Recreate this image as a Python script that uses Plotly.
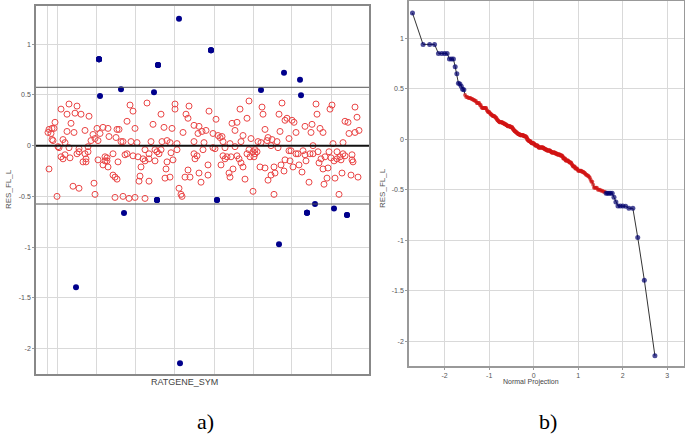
import plotly.graph_objects as go
from statistics import NormalDist

# ---------------- data ----------------
# Panel a: residuals per gene (x = gene position along RATGENE_SYM axis)
red_idx = [33,41,25,31,39,45,53,19,35,16,13,18,12,15,31,38,49,61,67,57,
           64,72,73,81,16,17,27,29,55,59,62,80,22,23,33,43,52,43,52,41,
           49,77,25,29,34,27,50,62,69,71,69,71,47,50,67,72,13,77,79,81,
           58,37,43,59,21,79,
           94,111,139,153,97,125,139,150,152,91,117,158,163,83,99,128,136,147,162,85,
           87,95,101,115,126,131,134,141,158,89,91,97,102,109,113,119,121,123,125,135,
           141,158,159,161,107,109,105,113,119,131,137,82,130,152,163,104,103,113,129,134,
           149,154,143,145,87,93,99,109,146,
           213,226,246,173,204,227,243,180,211,196,201,249,166,170,199,229,244,177,182,184,
           186,207,232,236,168,187,194,205,215,222,225,231,241,167,177,179,189,199,235,242,
           213,217,219,221,187,191,195,201,203,211,214,218,219,189,205,207,197,185,193,194,
           172,224,229,238,245,239,235,232,209,172,165,217,238,
           280,296,294,319,281,321,251,256,258,276,269,284,287,275,260,309,312,323,319,313,
           253,297,307,277,253,255,260,262,267,269,274,277,282,293,301,307,304,301,309,316,
           289,285,295,249,254,270,283,298,305,316,317,257,263,266,287,292,248,291,299,306,
           315,322,273,288,303]
red_val = [0.41,0.39,0.36,0.31,0.32,0.31,0.29,0.23,0.22,0.17,0.16,0.17,0.13,0.12,0.14,0.13,0.15,0.17,0.18,0.11,
           0.12,0.17,0.09,0.16,0.06,0.05,0.06,0.03,0.05,0.07,0.05,0.08,-0.01,-0.02,-0.02,-0.03,-0.01,-0.06,-0.06,-0.08,
           -0.08,-0.08,-0.11,-0.09,-0.12,-0.13,-0.13,-0.14,-0.11,-0.12,-0.15,-0.15,-0.16,-0.16,-0.19,-0.21,-0.23,-0.29,-0.31,-0.33,
           -0.37,-0.40,-0.42,-0.48,-0.50,-0.51,
           0.40,0.42,0.41,0.39,0.34,0.31,0.36,0.31,0.27,0.24,0.21,0.20,0.19,0.16,0.17,0.18,0.17,0.13,0.12,0.04,
           0.04,0.04,0.03,0.04,0.04,0.05,0.03,0.02,0.04,-0.09,-0.08,-0.10,-0.11,-0.04,-0.08,-0.04,-0.06,-0.08,-0.04,-0.07,
           -0.04,-0.08,-0.13,-0.10,-0.13,-0.15,-0.21,-0.13,-0.15,-0.16,-0.14,-0.16,-0.23,-0.24,-0.27,-0.30,-0.35,-0.35,-0.32,-0.31,
           -0.31,-0.31,-0.42,-0.48,-0.50,-0.52,-0.51,-0.52,-0.50,
           0.44,0.38,0.42,0.34,0.36,0.31,0.31,0.26,0.27,0.22,0.23,0.25,0.14,0.15,0.15,0.16,0.14,0.12,0.10,0.08,
           0.09,0.10,0.08,0.06,0.03,0.04,0.02,0.04,0.07,0.04,0.03,0.05,0.04,-0.04,-0.02,-0.03,-0.02,-0.01,0.00,-0.02,
           -0.04,-0.06,-0.04,-0.06,-0.10,-0.11,-0.11,-0.10,-0.13,-0.08,-0.11,-0.11,-0.08,-0.13,-0.17,-0.21,-0.23,-0.19,-0.27,-0.31,
           -0.19,-0.21,-0.22,-0.21,-0.19,-0.27,-0.29,-0.34,-0.33,-0.29,-0.36,-0.45,-0.48,
           0.41,0.40,0.36,0.38,0.31,0.28,0.27,0.25,0.23,0.21,0.19,0.17,0.13,0.13,0.13,0.24,0.23,0.15,0.13,0.12,
           0.07,0.02,0.03,0.00,-0.05,-0.05,-0.08,-0.08,-0.05,-0.09,-0.08,-0.08,-0.06,-0.06,-0.06,-0.08,-0.11,-0.13,-0.10,-0.09,
           -0.11,-0.13,-0.12,-0.14,-0.15,-0.15,-0.17,-0.15,-0.14,-0.14,-0.16,-0.21,-0.19,-0.26,-0.23,-0.22,-0.25,-0.32,-0.32,-0.27,
           -0.29,-0.31,-0.36,-0.38,-0.48]

# outliers (duplicated genes overlap on panel a)
blue_idx = [63,63,63,63,64,85,118,122,122,122,143,175,175,175,248,264,225,265,
            121,121,121,88,40,144,181,181,243,271,271,271,279,298,311,311]
blue_val = [0.851,0.851,0.851,0.851,0.49,0.556,0.526,0.795,0.795,0.795,1.251,0.94,0.94,0.94,0.719,0.65,0.549,0.497,
            -0.535,-0.535,-0.535,-0.663,-1.395,-2.144,-0.535,-0.535,-0.972,-0.66,-0.66,-0.66,-0.574,-0.62,-0.683,-0.683]

limit_val = 0.575
y_ticks = [-2, -1.5, -1, -0.5, 0, 0.5, 1]
y_tick_text = ['-2', '-1.5', '-1', '-0.5', '0', '0.5', '1']
gene_grid = [11.7, 21.7, 60.7, 99.7, 138.7, 178, 217, 255, 295]
x_ticks_b = [-2, -1, 0, 1, 2, 3]

# ---------------- normal probability data (panel b) ----------------
all_pts = [(v, 'r') for v in red_val] + [(v, 'b') for v in blue_val]
all_pts.sort(key=lambda p: -p[0])
n = len(all_pts)
nd = NormalDist()
qq_x = [nd.inv_cdf((i + 1) / (n + 1)) for i in range(n)]
qq_y = [p[0] for p in all_pts]
qq_col = ['rgb(0,0,110)' if p[1] == 'b' else 'rgb(210,20,20)' for p in all_pts]
qq_size = [5 if p[1] == 'b' else 4 for p in all_pts]

W, H = 685, 442
RED = 'rgb(234,70,70)'
NAVY = 'rgb(0,0,140)'
GRID = '#d9d9d9'
TICKF = dict(family='Arial', size=7, color='#555')

fig = go.Figure()
fig.add_trace(go.Scatter(x=red_idx, y=red_val, mode='markers', xaxis='x', yaxis='y',
                         marker=dict(symbol='circle-open', size=6, color=RED, line=dict(width=1, color=RED)),
                         showlegend=False))
fig.add_trace(go.Scatter(x=blue_idx, y=blue_val, mode='markers', xaxis='x', yaxis='y',
                         marker=dict(symbol='circle', size=6, color=NAVY, line=dict(width=0)), showlegend=False))
fig.add_trace(go.Scatter(x=qq_x, y=qq_y, mode='lines', xaxis='x2', yaxis='y2',
                         line=dict(color='#333', width=1), showlegend=False))
fig.add_trace(go.Scatter(x=qq_x, y=qq_y, mode='markers', xaxis='x2', yaxis='y2',
                         marker=dict(symbol='circle', size=qq_size, color=qq_col, line=dict(width=0)),
                         showlegend=False))

# reference lines on panel a
for yv, w, c in [(0, 2, '#111'), (limit_val, 1, '#555'), (-limit_val, 1, '#555')]:
    fig.add_shape(type='line', xref='x domain', yref='y', x0=0, x1=1, y0=yv, y1=yv,
                  line=dict(color=c, width=w))

fig.update_layout(
    width=W, height=H, margin=dict(l=0, r=0, t=0, b=0),
    paper_bgcolor='white', plot_bgcolor='white',
    xaxis=dict(domain=[36/W, 369/W], range=[0, 333], tickvals=gene_grid, showticklabels=False,
               showgrid=True, gridcolor=GRID, zeroline=False, showline=True, linecolor='#888',
               linewidth=1.5, mirror=True, ticks=''),
    yaxis=dict(domain=[1-374/H, 1-6/H], range=[-2.25, 1.376], tickvals=y_ticks, ticktext=y_tick_text,
               showgrid=True, gridcolor=GRID, zeroline=False, showline=True, linecolor='#888',
               linewidth=1.5, mirror=True, ticks='outside', ticklen=2, tickcolor='#999', tickfont=TICKF),
    xaxis2=dict(domain=[409/W, 684/W], range=[-2.80, 3.375], tickvals=x_ticks_b,
                ticktext=[str(t) for t in x_ticks_b], anchor='y2',
                showgrid=True, gridcolor=GRID, zeroline=False, showline=True, linecolor='#999',
                linewidth=1.5, mirror=True, ticks='outside', ticklen=2, tickcolor='#999', tickfont=TICKF),
    yaxis2=dict(domain=[1-366/H, 1-1/H], range=[-2.245, 1.37], tickvals=y_ticks, ticktext=y_tick_text,
                anchor='x2', showgrid=True, gridcolor=GRID, zeroline=False, showline=True, linecolor='#999',
                linewidth=1.5, mirror=True, ticks='outside', ticklen=2, tickcolor='#999', tickfont=TICKF),
)

ann = [
    dict(text='RATGENE_SYM', x=184/W, y=1-382/H, font=dict(family='Arial', size=9, color='#444'), textangle=0),
    dict(text='Normal Projection', x=531/W, y=1-382/H, font=dict(family='Arial', size=7, color='#444'), textangle=0),
    dict(text='RES_FL_L', x=8/W, y=1-189/H, font=dict(family='Arial', size=8, color='#555'), textangle=-90),
    dict(text='RES_FL_L', x=382/W, y=1-188/H, font=dict(family='Arial', size=8, color='#555'), textangle=-90),
    dict(text='a)', x=205/W, y=1-421/H, font=dict(family='Liberation Serif', size=22, color='#000'), textangle=0),
    dict(text='b)', x=548/W, y=1-421/H, font=dict(family='Liberation Serif', size=22, color='#000'), textangle=0),
]
for a in ann:
    fig.add_annotation(xref='paper', yref='paper', showarrow=False, xanchor='center', yanchor='middle', **a)

fig.write_html('out.html', config={'displayModeBar': False},
               post_script="document.body.style.margin='0';document.body.style.padding='0';")
